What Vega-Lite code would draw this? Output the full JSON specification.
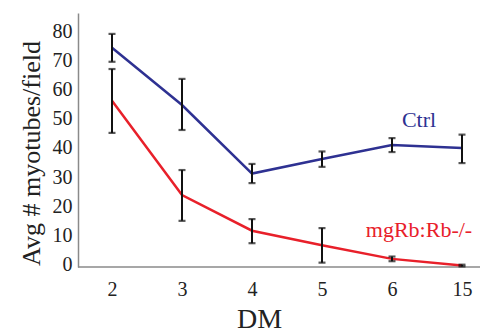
{
  "$schema": "https://vega.github.io/schema/vega-lite/v6.json",
  "width": 402,
  "height": 254,
  "autosize": {"type": "none"},
  "padding": {"left": 78, "top": 13, "right": 0, "bottom": 67},
  "background": "white",
  "config": {
    "view": {"stroke": null},
    "font": "Liberation Serif",
    "axis": {"labelFont": "Liberation Serif", "titleFont": "Liberation Serif", "labelOverlap": false},
    "axisY": {
      "ticks": false,
      "grid": false,
      "domainColor": "#8a8a8a",
      "domainWidth": 1.5,
      "labelFontSize": 20,
      "labelColor": "#222",
      "labelPadding": 6,
      "titleFontSize": 26,
      "titleFontWeight": "normal",
      "titleColor": "#222",
      "titlePadding": 8,
      "titleY": 140
    }
  },
  "datasets": {
    "series": [
      {"dm": "2", "group": "Ctrl", "avg": 74.5, "lo": 69.7, "hi": 79.3},
      {"dm": "3", "group": "Ctrl", "avg": 54.8, "lo": 46.2, "hi": 63.8},
      {"dm": "4", "group": "Ctrl", "avg": 31.2, "lo": 27.9, "hi": 34.5},
      {"dm": "5", "group": "Ctrl", "avg": 36.2, "lo": 33.5, "hi": 38.8},
      {"dm": "6", "group": "Ctrl", "avg": 41.0, "lo": 38.6, "hi": 43.4},
      {"dm": "15", "group": "Ctrl", "avg": 40.0, "lo": 34.8, "hi": 44.6},
      {"dm": "2", "group": "mgRb:Rb-/-", "avg": 56.3, "lo": 45.2, "hi": 67.2},
      {"dm": "3", "group": "mgRb:Rb-/-", "avg": 23.8, "lo": 14.9, "hi": 32.4},
      {"dm": "4", "group": "mgRb:Rb-/-", "avg": 11.5, "lo": 7.2, "hi": 15.5},
      {"dm": "5", "group": "mgRb:Rb-/-", "avg": 6.5, "lo": 0.5, "hi": 12.4},
      {"dm": "6", "group": "mgRb:Rb-/-", "avg": 1.8, "lo": 1.0, "hi": 2.6},
      {"dm": "15", "group": "mgRb:Rb-/-", "avg": -0.5, "lo": -0.8, "hi": -0.2}
    ],
    "labels": [
      {"dm": "6", "group": "Ctrl", "y": 49.5, "text": "Ctrl"},
      {"dm": "6", "group": "mgRb:Rb-/-", "y": 11.7, "text": "mgRb:Rb-/-"}
    ],
    "baseline": [{"base": -1}]
  },
  "encoding": {
    "x": {
      "field": "dm",
      "type": "ordinal",
      "sort": ["2", "3", "4", "5", "6", "15"],
      "scale": {"type": "point", "range": [34, 384], "padding": 0},
      "axis": {
        "title": "DM",
        "labelAngle": 0,
        "ticks": false,
        "domain": false,
        "labelFontSize": 20,
        "labelColor": "#222",
        "labelPadding": 12,
        "titleFontSize": 28,
        "titleFontWeight": "normal",
        "titleColor": "#222",
        "titlePadding": 6,
        "titleX": 181,
        "grid": false
      }
    }
  },
  "layer": [
    {
      "data": {"name": "baseline"},
      "mark": {"type": "rule", "color": "#8a8a8a", "strokeWidth": 1.5},
      "encoding": {
        "x": null,
        "y": {"field": "base", "type": "quantitative",
          "axis": {"title": "Avg # myotubes/field", "values": [0, 10, 20, 30, 40, 50, 60, 70, 80]}}
      }
    },
    {
      "data": {"name": "series"},
      "mark": {"type": "line", "strokeWidth": 2.5},
      "encoding": {
        "y": {
          "field": "avg",
          "type": "quantitative",
          "scale": {"domain": [-1, 86.5], "nice": false, "zero": false},
          "axis": {"title": "Avg # myotubes/field", "values": [0, 10, 20, 30, 40, 50, 60, 70, 80]}
        },
        "color": {
          "field": "group",
          "type": "nominal",
          "scale": {"domain": ["Ctrl", "mgRb:Rb-/-"], "range": ["#2e3192", "#e8202a"]},
          "legend": null
        }
      }
    },
    {
      "data": {"name": "series"},
      "mark": {"type": "rule", "color": "#111", "strokeWidth": 2},
      "encoding": {
        "y": {"field": "lo", "type": "quantitative", "axis": {"title": "Avg # myotubes/field", "values": [0, 10, 20, 30, 40, 50, 60, 70, 80]}},
        "y2": {"field": "hi"}
      }
    },
    {
      "data": {"name": "series"},
      "mark": {"type": "tick", "color": "#111", "orient": "horizontal", "size": 7, "thickness": 2.2},
      "encoding": {
        "y": {"field": "lo", "type": "quantitative", "axis": {"title": "Avg # myotubes/field", "values": [0, 10, 20, 30, 40, 50, 60, 70, 80]}}
      }
    },
    {
      "data": {"name": "series"},
      "mark": {"type": "tick", "color": "#111", "orient": "horizontal", "size": 7, "thickness": 2.2},
      "encoding": {
        "y": {"field": "hi", "type": "quantitative", "axis": {"title": "Avg # myotubes/field", "values": [0, 10, 20, 30, 40, 50, 60, 70, 80]}}
      }
    },
    {
      "data": {"name": "labels"},
      "mark": {"type": "text", "font": "Liberation Serif", "fontSize": 22, "dx": 27, "align": "center", "baseline": "middle"},
      "encoding": {
        "y": {"field": "y", "type": "quantitative", "axis": {"title": "Avg # myotubes/field", "values": [0, 10, 20, 30, 40, 50, 60, 70, 80]}},
        "text": {"field": "text"},
        "color": {"field": "group", "type": "nominal", "legend": null}
      }
    }
  ]
}
